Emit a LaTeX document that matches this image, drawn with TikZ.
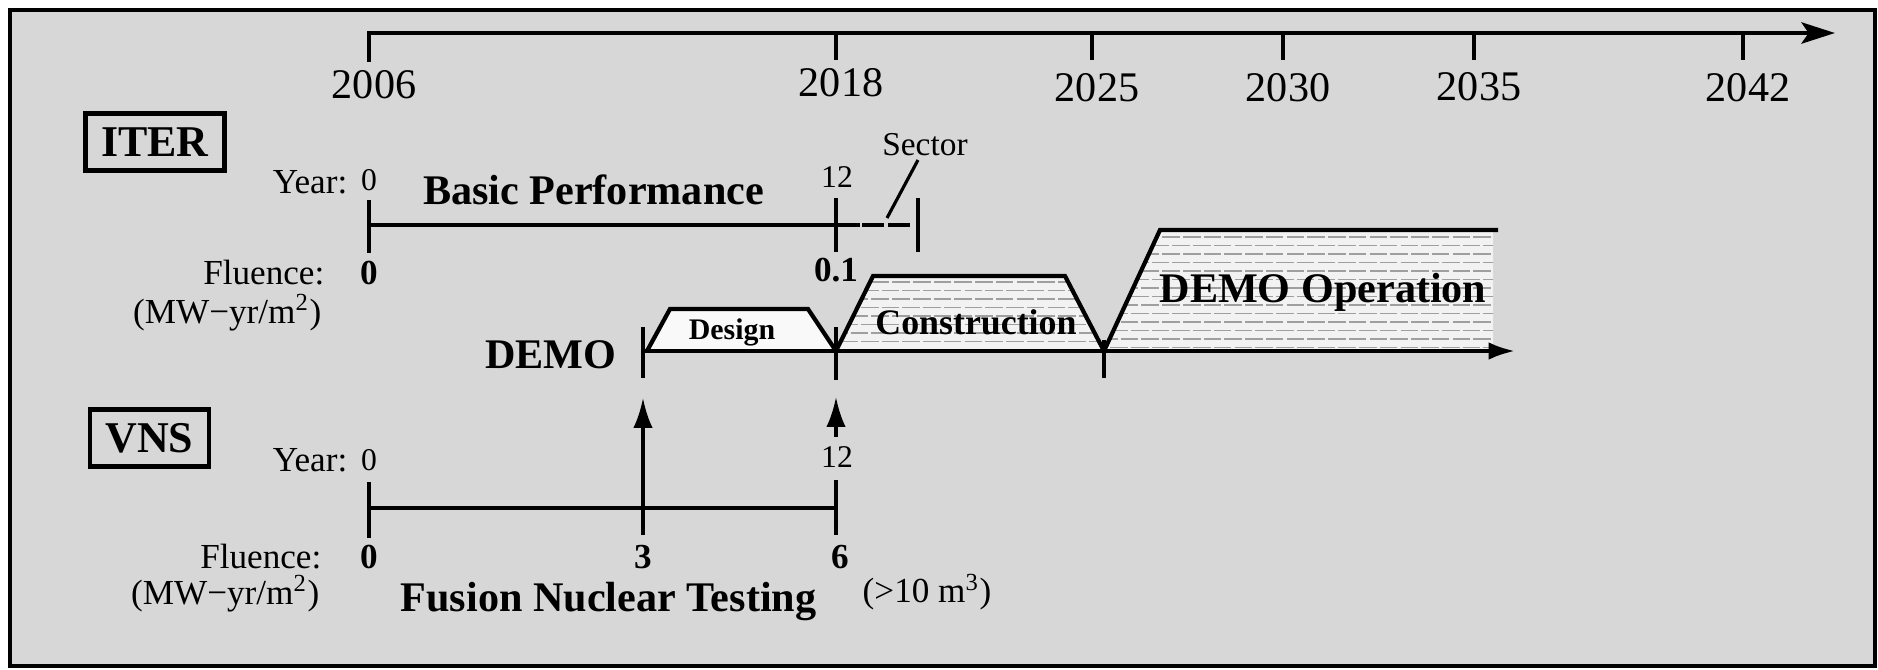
\documentclass[tikz,border=0pt]{standalone}
\usepackage{fontspec}
\setmainfont{Liberation Serif}
\usetikzlibrary{arrows.meta}

\begin{document}
\begin{tikzpicture}[y=-1cm,
  timeaxis/.style={line width=1.4pt},
  runline/.style={line width=1.1pt},
  tickmark/.style={line width=1pt},
  yr/.style={font=\fontsize{12}{12}\selectfont, inner sep=0pt},
  lbl/.style={font=\fontsize{10}{10}\selectfont, anchor=east, inner sep=0pt},
  num/.style={font=\fontsize{9}{9}\selectfont, inner sep=0pt},
  flu/.style={font=\fontsize{10}{10}\selectfont\bfseries, inner sep=0pt},
  big/.style={font=\fontsize{12}{12}\selectfont\bfseries, inner sep=0pt},
  tag/.style={draw, line width=1.2pt, font=\fontsize{12.5}{12.5}\selectfont\bfseries,
              minimum height=0.57cm, inner xsep=4.5pt},
  phase/.style={line width=1.2pt, line join=miter},
  brick/.style={gray!75, line width=0.5pt, dash pattern=on 5pt off 0.9pt},
  feed/.style={-{Latex[length=8.5pt,width=5.5pt]}, line width=1pt}]

\useasboundingbox (0,0) rectangle (18.78,6.69);
\draw[line width=1.3pt, fill=gray!31] (0.10,0.10) rectangle (18.75,6.66);

% calendar axis
\draw[timeaxis, -{Stealth[length=9.5pt,width=6pt,inset=2pt]}] (3.69,0.62) -- (3.69,0.33) -- (18.35,0.33);
\foreach \x in {8.36,10.92,12.83,14.74,17.43}
  \draw[tickmark] (\x,0.33) -- (\x,0.60);
\foreach \x/\yr/\ly in {3.69/2006/0.85, 8.36/2018/0.83, 10.92/2025/0.88,
                        12.83/2030/0.88, 14.74/2035/0.87, 17.43/2042/0.88}
  \node[yr] (y\yr) at (\x+0.05,\ly) {\yr};

% ITER
\node[tag] (iter) at (1.55,1.42) {ITER};
\coordinate (i0) at (3.69,2.25);
\coordinate (i12) at (8.36,2.25);
\coordinate (isec) at (9.18,2.25);
\node[lbl] (iyear) at (3.48,1.82) {Year:};
\node[num] (iy0) at (3.69,1.80) {0};
\node[num] (iy12) at (8.37,1.77) {12};
\node[big] (basic) at (5.935,1.90) {Basic Performance};
\draw[runline] (i0) -- (8.60,2.25);
\draw[runline, dash pattern=on 6.3pt off 1.1pt] (8.62,2.25) -- (9.14,2.25);
\draw[tickmark] (3.69,2.00) -- (3.69,2.53);
\draw[tickmark] (8.36,1.98) -- (8.36,2.52);
\draw[tickmark] (9.18,1.98) -- (9.18,2.52);
\node[font=\fontsize{9.5}{9.5}\selectfont, inner sep=0pt] (sector) at (9.25,1.45) {Sector};
\draw[line width=0.9pt] (9.18,1.60) -- (8.87,2.18);
\node[lbl] (iflu) at (3.25,2.73) {Fluence:};
\node[lbl] (iunit) at (3.22,3.13) {(MW−yr/m\textsuperscript{2})};
\node[flu] (if0) at (3.69,2.73) {0};
\node[flu] (if1) at (8.36,2.70) {0.1};

% DEMO phases
\fill[gray!5] (6.47,3.51) -- (6.70,3.09) -- (8.08,3.09) -- (8.36,3.51) -- cycle;
\begin{scope}
  \clip (8.36,3.51) -- (8.73,2.76) -- (10.65,2.76) -- (11.04,3.51) -- cycle;
  \fill[gray!10] (8.3,2.7) rectangle (11.1,3.55);
  \foreach \r in {0,2,...,8}
    \draw[brick] (8.3,2.82+\r*0.085) -- (11.1,2.82+\r*0.085);
  \foreach \r in {1,3,...,7}
    \draw[brick, dash phase=3pt] (8.3,2.82+\r*0.085) -- (11.1,2.82+\r*0.085);
\end{scope}
\begin{scope}
  \clip (11.04,3.51) -- (11.60,2.30) -- (14.93,2.30) -- (14.93,3.51) -- cycle;
  \fill[gray!10] (11.0,2.25) rectangle (15.0,3.55);
  \foreach \r in {0,2,...,14}
    \draw[brick] (11.0,2.37+\r*0.085) -- (15.0,2.37+\r*0.085);
  \foreach \r in {1,3,...,13}
    \draw[brick, dash phase=3pt] (11.0,2.37+\r*0.085) -- (15.0,2.37+\r*0.085);
\end{scope}
\draw[phase] (6.47,3.51) -- (6.70,3.09) -- (8.08,3.09) -- (8.36,3.51);
\draw[phase] (8.36,3.51) -- (8.73,2.76) -- (10.65,2.76) -- (11.04,3.51);
\draw[phase] (11.04,3.51) -- (11.60,2.30) -- (14.98,2.30);
\node[font=\fontsize{8.5}{8.5}\selectfont\bfseries, inner sep=0pt] (design) at (7.32,3.32) {Design};
\node[font=\fontsize{10.2}{10.2}\selectfont\bfseries, inner sep=0pt] (constr) at (9.76,3.22) {Construction};
\node[big] (oper) at (13.23,2.92) {DEMO Operation};

\node[big, anchor=east] (demo) at (6.17,3.55) {DEMO};
\coordinate (d3) at (6.43,3.98);
\coordinate (d6) at (8.36,3.97);
\draw[runline, -{Latex[length=7.5pt,width=5pt]}] (6.43,3.51) -- (15.15,3.51);
\draw[tickmark] (6.43,3.27) -- (6.43,3.78);
\draw[tickmark] (8.36,3.27) -- (8.36,3.80);
\draw[tickmark] (11.04,3.40) -- (11.04,3.78);

% VNS
\node[tag] (vns) at (1.495,4.38) {VNS};
\coordinate (v0) at (3.69,5.08);
\coordinate (v3) at (6.43,5.35);
\coordinate (v12) at (8.36,4.37);
\node[lbl] (vyear) at (3.48,4.60) {Year:};
\node[num] (vy0) at (3.69,4.60) {0};
\node[num] (vy12) at (8.37,4.57) {12};
\draw[runline] (v0) -- (8.36,5.08);
\draw[tickmark] (3.69,4.82) -- (3.69,5.38);
\draw[tickmark] (8.36,4.80) -- (8.36,5.35);
\draw[feed] (v3) -- (d3);
\draw[feed] (v12) -- (d6);
\node[lbl] (vflu) at (3.22,5.57) {Fluence:};
\node[lbl] (vunit) at (3.20,5.94) {(MW−yr/m\textsuperscript{2})};
\node[flu] (vf0) at (3.69,5.57) {0};
\node[flu] (vf3) at (6.43,5.57) {3};
\node[flu] (vf6) at (8.40,5.57) {6};
\node[big] (testing) at (6.085,6.02) {Fusion Nuclear Testing};
\node[font=\fontsize{10}{10}\selectfont, inner sep=0pt] (volume) at (9.27,5.92) {(>10 m\textsuperscript{3})};
\end{tikzpicture}
\end{document}
